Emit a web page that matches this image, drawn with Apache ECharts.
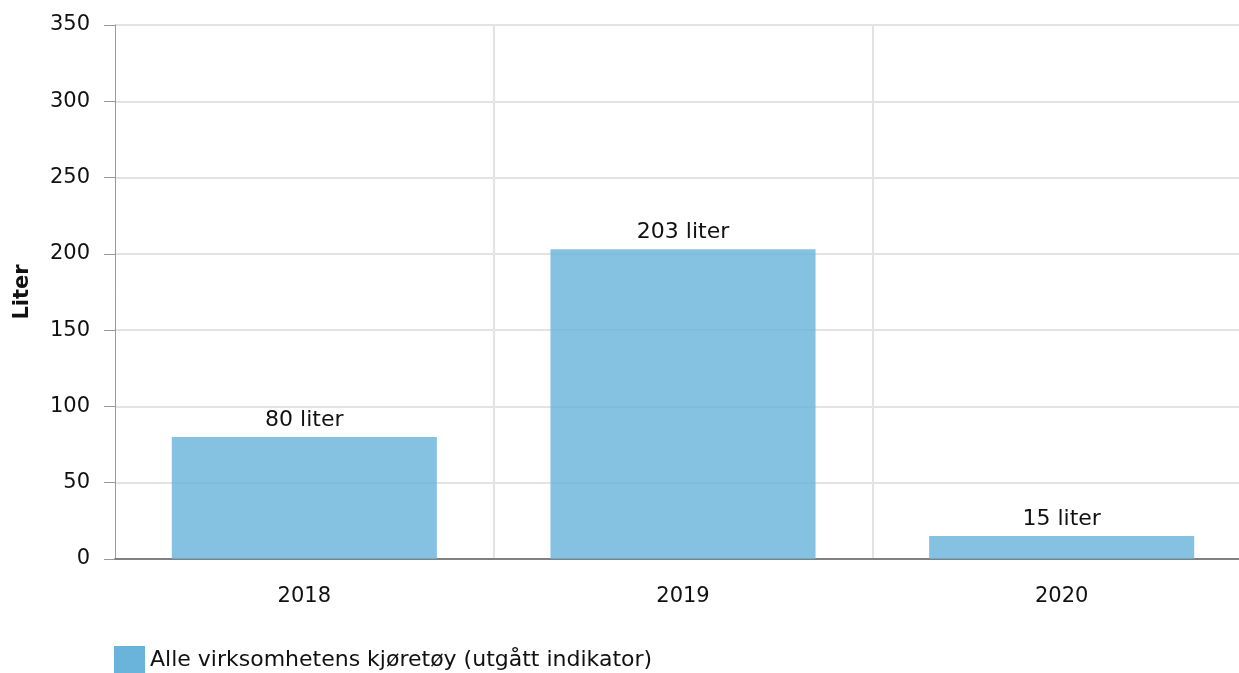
<!DOCTYPE html>
<html>
<head>
<meta charset="utf-8">
<script src="https://cdn.jsdelivr.net/npm/echarts@6/dist/echarts.min.js"></script>
<style>
html, body { margin: 0; padding: 0; background: #fff; }
#chart { width: 1239px; height: 673px; }
</style>
</head>
<body>
<div id="chart"></div>
<script>
var years = ['2018', '2019', '2020'];
var values = [80, 203, 15];
var seriesName = 'Alle virksomhetens kjøretøy (utgått indikator)';

var font = 'DejaVu Sans, Verdana, sans-serif';
var chart = echarts.init(document.getElementById('chart'));

var opt = {
    animation: false,
    // plot runs a little past the right edge, as in the original picture
    grid: { left: 115, top: 25, right: -12, bottom: 114, outerBoundsMode: 'none', containLabel: false },
    legend: {
        left: 109,
        top: 641,
        itemWidth: 31,
        itemHeight: 29,
        icon: 'rect',
        textStyle: { fontFamily: font, fontSize: 22, color: '#111' },
        data: [{ name: seriesName, itemStyle: { color: '#6ab4dc' } }]
    },
    xAxis: {
        type: 'category',
        data: years,
        axisLine: { lineStyle: { color: '#808080', width: 2 } },
        axisTick: { alignWithLabel: true, length: 9, lineStyle: { color: '#aaa', width: 2 } },
        axisLabel: { fontFamily: font, fontSize: 21, color: '#111', margin: 27 },
        splitLine: { show: true, showMinLine: false, showMaxLine: false, lineStyle: { color: '#e3e3e3', width: 2 } }
    },
    yAxis: {
        type: 'value',
        min: 0,
        max: 350,
        interval: 50,
        name: 'Liter',
        nameLocation: 'middle',
        nameGap: 82,
        nameTextStyle: { fontFamily: font, fontSize: 21, fontWeight: 'bold', color: '#111' },
        axisLine: { show: true, lineStyle: { color: '#999', width: 1 } },
        axisTick: { show: true, length: 11, lineStyle: { color: '#999' } },
        axisLabel: { fontFamily: font, fontSize: 21, color: '#111', margin: 25 },
        splitLine: { lineStyle: { color: '#e3e3e3', width: 2 } }
    },
    series: [{
        name: seriesName,
        type: 'bar',
        data: values,
        barCategoryGap: '30%',
        itemStyle: { color: 'rgba(106,180,220,0.82)' },
        label: {
            show: true,
            position: 'top',
            distance: 6,
            fontFamily: font,
            fontSize: 22,
            color: '#111',
            formatter: function (p) { return p.value + ' liter'; }
        }
    }]
};

chart.setOption(opt);
</script>
</body>
</html>
